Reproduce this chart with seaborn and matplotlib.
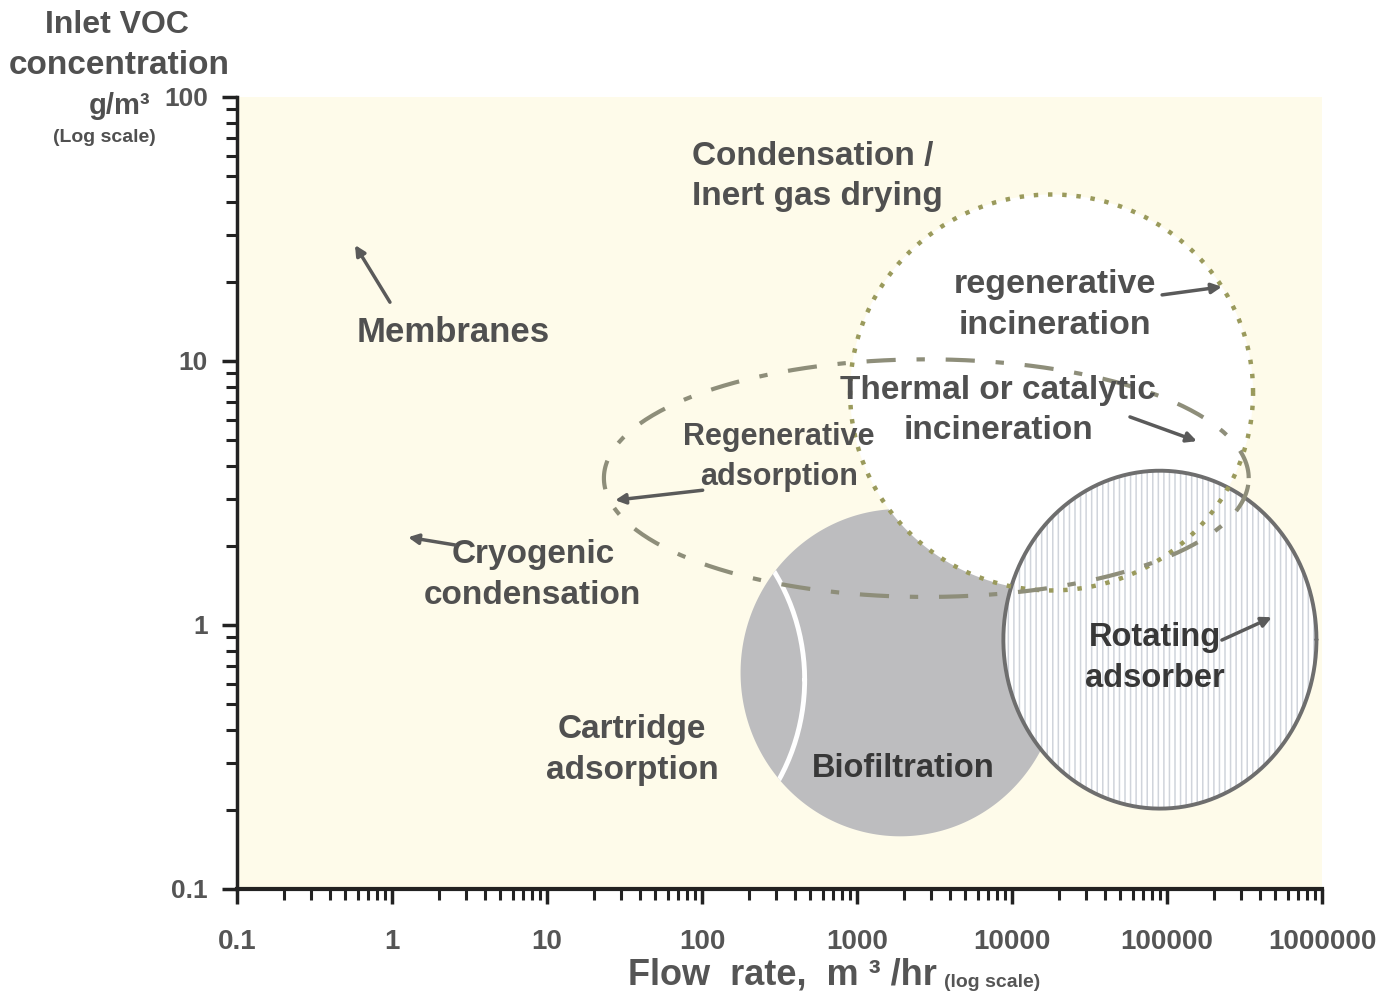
import numpy as np
import matplotlib
matplotlib.use('Agg')
import matplotlib.pyplot as plt
import matplotlib.ticker as tkr
import seaborn as sns

# treatment regions: centre flow (m3/hr), centre conc (g/m3), half width / half height in decades
region_names = ['Biofiltration', 'Rotating adsorber', 'Incineration', 'Regenerative adsorption', 'Cartridge adsorption']
region_flow = [1900, 90000, 18000, 2800, 22]
region_conc = [0.66, 0.88, 7.6, 3.6, 0.62]
region_wdec = [1.03, 1.01, 1.30, 2.08, 1.32]
region_hdec = [0.62, 0.64, 0.75, 0.45, 0.78]

# text labels and their arrows (None = no arrow)
label_text = ['Condensation /\nInert gas drying', 'regenerative\nincineration', 'Membranes',
              'Thermal or catalytic\nincineration', 'Regenerative\nadsorption', 'Cryogenic\ncondensation',
              'Cartridge\nadsorption', 'Biofiltration', 'Rotating\nadsorber']
label_flow = [86, 18900, 2.48, 8130, 314, 8.1, 35.3, 1980, 83800]
label_conc = [50, 16.3, 12.8, 6.5, 4.33, 1.55, 0.336, 0.287, 0.75]
arrow_tail = [None, (93000, 17.8), (0.97, 16.7), (57700, 6.14), (101, 3.24), (2.55, 2.01), None, None, (226000, 0.877)]
arrow_head = [None, (226000, 19.1), (0.577, 27.5), (156000, 4.97), (27.5, 2.97), (1.27, 2.15), None, None, (475000, 1.07)]

x_ticks = [0.1, 1, 10, 100, 1000, 10000, 100000, 1000000]
y_ticks = [0.1, 1, 10, 100]

# font sizes for the labels above
label_size = [24, 24.5, 25, 24, 22, 24, 24, 23.5, 23.5]


def region_outline(i, n=300):
    t = np.linspace(0, 2 * np.pi, n)
    lx = np.log10(region_flow[i]) + region_wdec[i] * np.cos(t)
    ly = np.log10(region_conc[i]) + region_hdec[i] * np.sin(t)
    return 10 ** lx, 10 ** ly


sns.set_theme(style='ticks')
plt.rcParams['font.family'] = ['Liberation Sans', 'DejaVu Sans']
plt.rcParams['hatch.linewidth'] = 1.1

fig = plt.figure(figsize=(13.87, 10.01), dpi=100)
fig.patch.set_facecolor('white')
ax = fig.add_axes([237 / 1387, 112 / 1001, 1085 / 1387, 792 / 1001])
ax.set_facecolor('#fefbea')
ax.set_xscale('log')
ax.set_yscale('log')
ax.set_xlim(0.1, 1e6)
ax.set_ylim(0.1, 100)

# biofiltration (grey disc)
bx, by = region_outline(0)
bio = ax.fill(bx, by, color='#bdbdbf', lw=0, zorder=1)[0]

# cartridge adsorption boundary - white arc inside biofiltration
cx, cy = region_outline(4)
arc, = ax.plot(cx, cy, color='white', lw=3.5, zorder=1.5)
arc.set_clip_path(bio)

# incineration (white disc with dotted rim)
ix, iy = region_outline(2)
ax.fill(ix, iy, color='white', lw=0, zorder=2)

# rotating adsorber (hatched)
rx, ry = region_outline(1)
ax.fill(rx, ry, facecolor='white', edgecolor='#d0d4db', hatch='|||', lw=0, zorder=3)
ax.plot(rx, ry, color='#6e6e6e', lw=2.8, zorder=3.5)

sns.lineplot(x=ix, y=iy, sort=False, estimator=None, ax=ax, color='#9a9a5c', lw=3.2,
             linestyle=(0, (1, 2.2)), zorder=4)

# regenerative adsorption envelope (dash-dot)
gx, gy = region_outline(3)
sns.lineplot(x=gx, y=gy, sort=False, estimator=None, ax=ax, color='#8e8e7a', lw=3,
             linestyle=(0, (7, 5, 2, 5)), zorder=4)

for i, txt in enumerate(label_text):
    col = '#383838' if txt in ('Biofiltration', 'Rotating\nadsorber') else '#505050'
    ha = 'left' if i == 0 else 'center'
    ax.text(label_flow[i], label_conc[i], txt, ha=ha, va='center', fontsize=label_size[i],
            fontweight='bold', color=col, linespacing=1.4, zorder=6)
    if arrow_tail[i] is not None:
        ax.annotate('', xy=arrow_head[i], xytext=arrow_tail[i],
                    arrowprops=dict(arrowstyle='-|>', color='#5a5a5a', lw=2.5,
                                    mutation_scale=15, shrinkA=0, shrinkB=0), zorder=6)

sns.despine(ax=ax)
ax.spines['left'].set_linewidth(2.5)
ax.spines['bottom'].set_linewidth(3)
ax.spines['left'].set_color('#222222')
ax.spines['bottom'].set_color('#222222')

ax.set_xticks(x_ticks)
ax.set_yticks(y_ticks)
fmt = tkr.FuncFormatter(lambda v, p: '0.1' if v < 1 else f'{int(round(v))}')
ax.xaxis.set_major_formatter(fmt)
ax.yaxis.set_major_formatter(fmt)
ax.xaxis.set_minor_formatter(tkr.NullFormatter())
ax.yaxis.set_minor_formatter(tkr.NullFormatter())
ax.tick_params(which='major', length=11, width=2.5, color='#222222', labelcolor='#555555')
ax.tick_params(which='minor', length=8, width=2.2, color='#222222')
ax.tick_params(axis='x', which='major', pad=18, labelsize=20)
ax.tick_params(axis='y', which='major', pad=10, labelsize=19)
for lab in ax.get_xticklabels() + ax.get_yticklabels():
    lab.set_fontweight('bold')
ax.grid(False)

# axis titles
tc = '#505050'
fig.text(117 / 1387, 1 - 25 / 1001, 'Inlet VOC', ha='center', va='center', fontsize=23,
         fontweight='bold', color=tc)
fig.text(119 / 1387, 1 - 66 / 1001, 'concentration', ha='center', va='center', fontsize=24,
         fontweight='bold', color=tc)
fig.text(120 / 1387, 1 - 106 / 1001, 'g/m³', ha='center', va='center', fontsize=21,
         fontweight='bold', color=tc)
fig.text(104 / 1387, 1 - 138 / 1001, '(Log scale)', ha='center', va='center', fontsize=14,
         fontweight='bold', color=tc)
xl = fig.text(628 / 1387, 1 - 975 / 1001, 'Flow  rate,  m ³ /hr', ha='left', va='center', fontsize=26,
              fontweight='bold', color='#555555')
ax.annotate('(log scale)', xy=(1, 0), xycoords=xl, xytext=(5, 1), textcoords='offset points',
            ha='left', va='bottom', fontsize=14, fontweight='bold', color='#555555',
            annotation_clip=False)

fig.savefig('out.png', dpi=100)
